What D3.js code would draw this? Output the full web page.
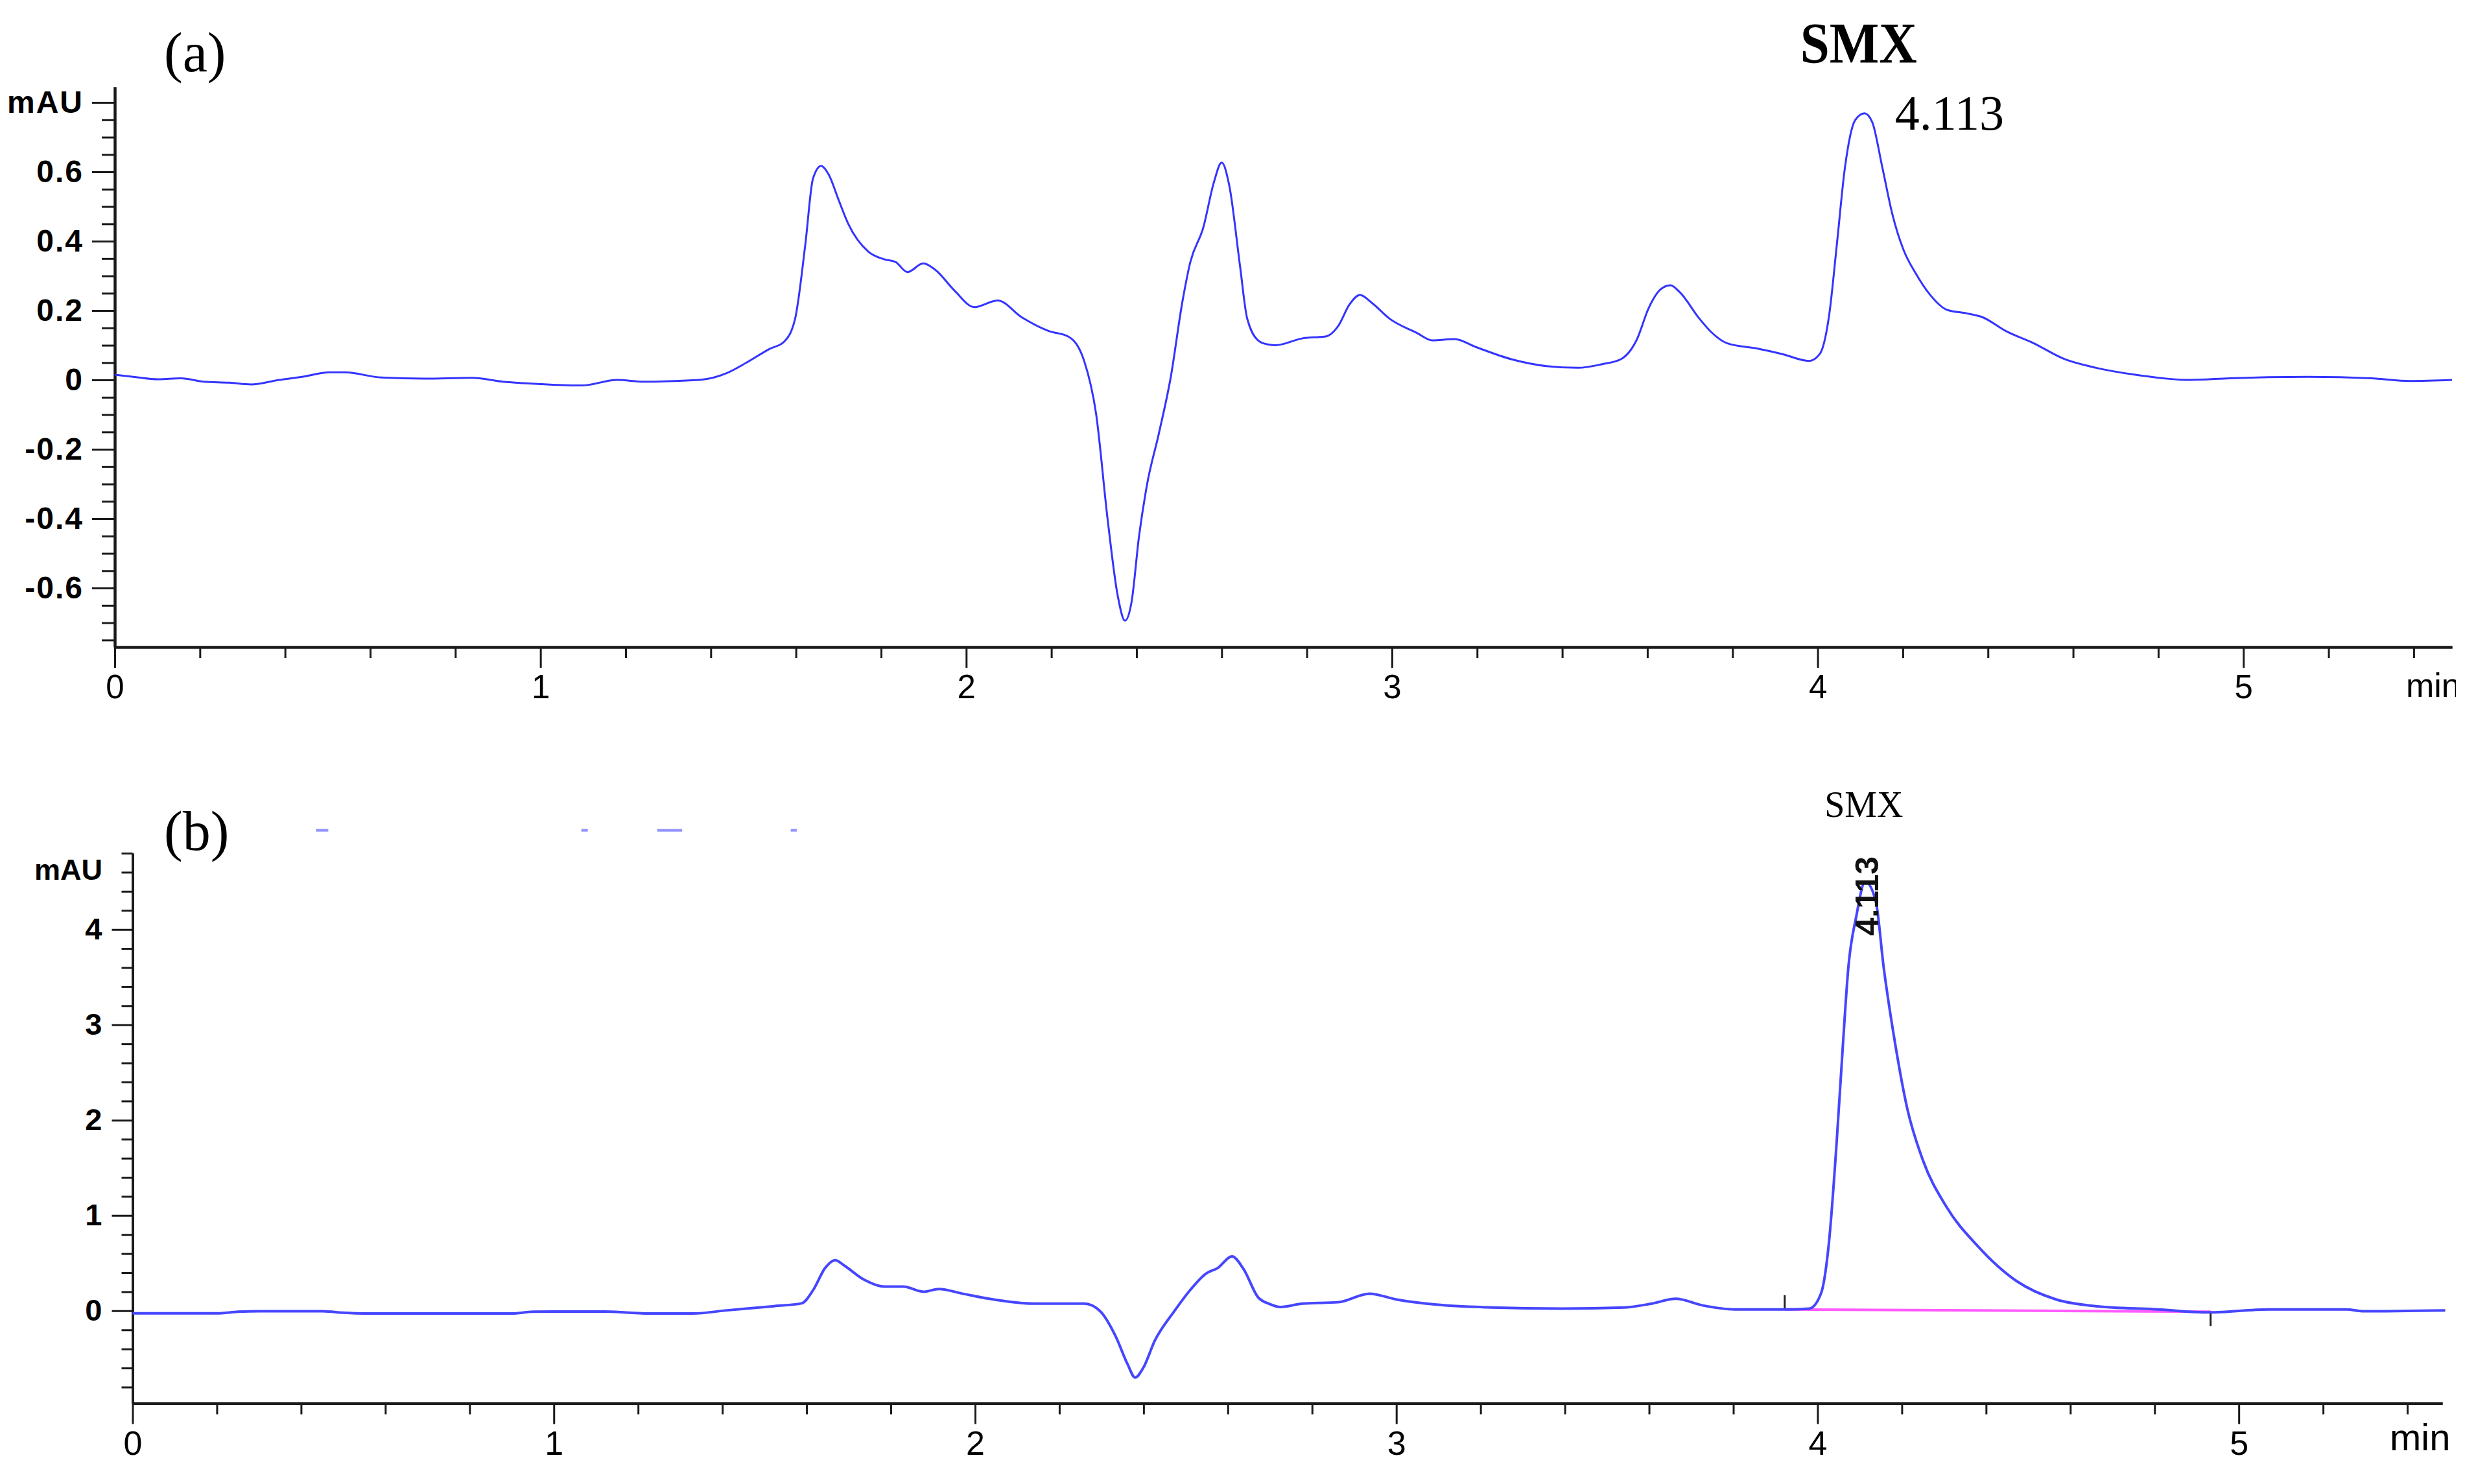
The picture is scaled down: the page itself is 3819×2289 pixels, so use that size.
<!DOCTYPE html>
<html>
<head>
<meta charset="utf-8">
<script src="https://cdn.jsdelivr.net/npm/d3@7"></script>
<style>
  html, body { margin: 0; padding: 0; background: #fff; }
  svg { display: block; }
</style>
</head>
<body>
<script>
// ---------------- DATA ----------------
// Panel (a): chromatogram, time (min) and absorbance (mAU)
const timeA = [0.00,0.05,0.10,0.155,0.21,0.27,0.32,0.386,0.44,0.505,0.54,0.626,0.727,0.838,0.912,1.004,1.096,1.18,1.244,1.373,
  1.438,1.484,1.539,1.572,1.598,1.622,1.64,1.659,1.677,1.70,1.723,1.77,1.807,1.834,1.862,1.899,1.927,1.973,2.019,2.074,
  2.13,2.194,2.24,2.277,2.305,2.332,2.356,2.373,2.388,2.406,2.425,2.452,2.48,2.508,2.526,2.557,2.582,2.60,2.618,2.643,
  2.66,2.689,2.711,2.726,2.79,2.846,2.874,2.90,2.925,2.953,2.994,3.058,3.095,3.147,3.197,3.28,3.363,3.437,3.492,3.538,
  3.575,3.603,3.63,3.654,3.676,3.722,3.75,3.787,3.861,3.916,3.98,4.005,4.027,4.045,4.064,4.088,4.11,4.128,4.152,4.175,
  4.202,4.23,4.263,4.304,4.35,4.387,4.442,4.507,4.58,4.654,4.746,4.875,4.968,5.152,5.30,5.392,5.49];
const valueA = [0.015,0.008,0.002,0.005,-0.005,-0.008,-0.013,0.0,0.009,0.022,0.022,0.007,0.004,0.006,-0.005,-0.012,-0.016,0.0,-0.005,0.0,
  0.02,0.05,0.09,0.11,0.176,0.39,0.58,0.617,0.592,0.52,0.45,0.37,0.348,0.34,0.311,0.336,0.318,0.257,0.21,0.229,
  0.181,0.141,0.125,0.055,-0.097,-0.40,-0.623,-0.694,-0.643,-0.45,-0.30,-0.157,0.005,0.227,0.338,0.44,0.571,0.627,0.56,0.33,
  0.177,0.111,0.102,0.1,0.12,0.126,0.156,0.217,0.245,0.222,0.177,0.136,0.114,0.118,0.095,0.06,0.04,0.035,0.045,0.06,
  0.116,0.207,0.26,0.273,0.253,0.177,0.138,0.106,0.09,0.075,0.055,0.075,0.187,0.39,0.612,0.749,0.769,0.744,0.612,0.48,
  0.374,0.308,0.247,0.202,0.192,0.181,0.141,0.106,0.06,0.035,0.015,0.0,0.005,0.009,0.005,-0.003,0.0];

// Panel (b): chromatogram, time (min) and absorbance (mAU)
const timeB = [0.00,0.20,0.25,0.30,0.45,0.50,0.55,0.90,0.95,1.00,1.12,1.18,1.22,1.33,1.411,1.523,1.588,1.616,1.644,1.668,
  1.691,1.737,1.784,1.83,1.877,1.914,1.97,2.045,2.138,2.259,2.297,2.334,2.362,2.38,2.399,2.427,2.473,2.511,2.548,2.576,
  2.61,2.637,2.672,2.70,2.725,2.778,2.862,2.936,3.001,3.095,3.225,3.393,3.542,3.607,3.663,3.728,3.803,3.924,3.98,4.008,
  4.027,4.045,4.06,4.073,4.092,4.113,4.138,4.157,4.185,4.213,4.25,4.306,4.38,4.473,4.567,4.66,4.809,4.93,5.07,5.256,
  5.293,5.49];
const valueB = [-0.026,-0.026,-0.01,-0.004,-0.004,-0.02,-0.028,-0.028,-0.01,-0.008,-0.008,-0.02,-0.028,-0.028,0.005,0.049,0.078,0.22,0.449,0.532,
  0.47,0.325,0.254,0.254,0.2,0.229,0.18,0.118,0.076,0.076,-0.004,-0.27,-0.56,-0.70,-0.60,-0.31,-0.004,0.22,0.39,0.449,
  0.57,0.44,0.141,0.07,0.04,0.076,0.09,0.18,0.118,0.065,0.035,0.023,0.035,0.076,0.126,0.056,0.015,0.015,0.023,0.18,
  0.716,1.75,2.78,3.60,4.14,4.5,4.3,3.60,2.78,2.12,1.58,1.09,0.68,0.31,0.118,0.049,0.015,-0.017,0.015,0.015,
  -0.004,0.005];

// Integration baseline of the SMX peak in (b): start/end time and level
const baselineTimesB = [3.922, 4.933];
const baselineValuesB = [0.015, -0.01];

// Faint fragments of another trace left at the top of panel (b): [start, end] time, level
const ghostTimesB = [[0.44, 0.46], [1.07, 1.076], [1.25, 1.30], [1.567, 1.572]];
const ghostValueB = 5.04;

// Tick labels
const xMajorTicks = [0, 1, 2, 3, 4, 5];
const xTickLabels = ["0", "1", "2", "3", "4", "5"];
const yMajorTicksA = [-0.6, -0.4, -0.2, 0, 0.2, 0.4, 0.6, 0.8];
const yTickLabelsA = ["-0.6", "-0.4", "-0.2", "0", "0.2", "0.4", "0.6", "mAU"];
const yMajorTicksB = [0, 1, 2, 3, 4];
const yTickLabelsB = ["0", "1", "2", "3", "4"];

// Annotations
const peakTime = 4.113;
const peakLabel = "4.113";
const compound = "SMX";

// ---------------- DRAW ----------------
const W = 3819, H = 2289;
const svg = d3.select("body").append("svg").attr("width", W).attr("height", H)
  .attr("viewBox", `0 0 ${W} ${H}`);
svg.append("rect").attr("width", W).attr("height", H).attr("fill", "#fff");

const SANS = "'Liberation Sans', Arial, sans-serif";
const SERIF = "'Liberation Serif', 'Times New Roman', serif";

// scales
const xA = d3.scaleLinear().domain([0, 5.49]).range([177, 3782]);
const yA = d3.scaleLinear().domain([-0.77, 0.845]).range([998, 134]);
const xB = d3.scaleLinear().domain([0, 5.483]).range([204.5, 3767]);
const yB = d3.scaleLinear().domain([-0.97, 4.8]).range([2164.5, 1316]);

function styleAxis(g, strokeW) {
  g.selectAll(".domain").attr("stroke", "#1a1a1a").attr("stroke-width", strokeW);
  g.selectAll(".tick line").attr("stroke", "#1a1a1a").attr("stroke-width", 3);
}

function drawAxes(x, y, opt) {
  const x0 = x.range()[0], yBottom = y.range()[0];
  const xMinor = d3.range(0, x.domain()[1] + 1e-9, 0.2).map(v => +v.toFixed(2))
    .filter(v => Math.abs(v - Math.round(v)) > 1e-6);
  const gxm = svg.append("g").attr("transform", `translate(0,${yBottom})`)
    .call(d3.axisBottom(x).tickValues(xMinor).tickSize(opt.xMinorLen).tickSizeOuter(0).tickFormat(""));
  styleAxis(gxm, 4);
  const gx = svg.append("g").attr("transform", `translate(0,${yBottom})`)
    .call(d3.axisBottom(x).tickValues(xMajorTicks).tickSize(opt.xMajorLen).tickSizeOuter(0)
      .tickPadding(opt.xPad).tickFormat((d, i) => xTickLabels[i]));
  styleAxis(gx, 4);
  gx.selectAll("text").attr("font-family", SANS).attr("font-size", opt.xFont).attr("fill", "#000");

  const yMinor = d3.range(opt.yMinorStart, opt.yMinorEnd + 1e-9, opt.yMinorStep).map(v => +v.toFixed(3))
    .filter(v => !opt.yMajor.some(m => Math.abs(m - v) < 1e-6));
  const gym = svg.append("g").attr("transform", `translate(${x0},0)`)
    .call(d3.axisLeft(y).tickValues(yMinor).tickSize(opt.yMinorLen).tickSizeOuter(0).tickFormat(""));
  styleAxis(gym, 4);
  const gy = svg.append("g").attr("transform", `translate(${x0},0)`)
    .call(d3.axisLeft(y).tickValues(opt.yMajor).tickSize(opt.yMajorLen).tickSizeOuter(0)
      .tickPadding(opt.yPad).tickFormat((d, i) => opt.yLabels[i]));
  styleAxis(gy, 4);
  gy.selectAll("text").attr("font-family", SANS).attr("font-size", opt.yFont)
    .attr("font-weight", "bold").attr("letter-spacing", opt.ySpacing || 0).attr("fill", "#000");
}

// ---- Panel (a)
drawAxes(xA, yA, {
  xMinorLen: 17, xMajorLen: 32, xPad: 11, xFont: 51,
  yMinorStart: -0.75, yMinorEnd: 0.8, yMinorStep: 0.05, yMajor: yMajorTicksA, yLabels: yTickLabelsA,
  yMinorLen: 20, yMajorLen: 35, yPad: 13, yFont: 48, ySpacing: 2
});
const defs = svg.append("defs");
defs.append("clipPath").attr("id", "clipMinA").append("rect")
  .attr("x", 3600).attr("y", 1000).attr("width", xA.range()[1] + 6 - 3600).attr("height", 120);
svg.append("text").attr("clip-path", "url(#clipMinA)")
  .attr("x", 3711).attr("y", 1075).attr("font-family", SANS).attr("font-size", 52).attr("fill", "#000")
  .text("min");

const lineA = d3.line().x((d, i) => xA(timeA[i])).y((d, i) => yA(valueA[i])).curve(d3.curveMonotoneX);
svg.append("path").attr("d", lineA(valueA)).attr("fill", "none")
  .attr("stroke", "#3434ff").attr("stroke-width", 3).attr("stroke-linejoin", "round");

svg.append("text").attr("x", 253).attr("y", 110).attr("font-family", SERIF).attr("font-size", 86)
  .attr("fill", "#000").text("(a)");
svg.append("text").attr("x", xA(peakTime) - 11).attr("y", 96).attr("text-anchor", "middle")
  .attr("font-family", SERIF).attr("font-weight", "bold").attr("font-size", 88)
  .attr("textLength", 180).attr("lengthAdjust", "spacingAndGlyphs").attr("fill", "#000").text(compound);
svg.append("text").attr("x", xA(peakTime) + 45).attr("y", 200)
  .attr("font-family", SERIF).attr("font-size", 76).attr("fill", "#000").text(peakLabel);

// ---- Panel (b)
drawAxes(xB, yB, {
  xMinorLen: 17, xMajorLen: 32, xPad: 11, xFont: 52,
  yMinorStart: -0.8, yMinorEnd: 4.8, yMinorStep: 0.2, yMajor: yMajorTicksB, yLabels: yTickLabelsB,
  yMinorLen: 17, yMajorLen: 32, yPad: 15, yFont: 47
});
svg.append("text").attr("x", 158).attr("y", yB(4.63)).attr("dy", "0.36em").attr("text-anchor", "end")
  .attr("font-family", SANS).attr("font-weight", "bold").attr("font-size", 45).attr("fill", "#000").text("mAU");
svg.append("text").attr("x", 3686).attr("y", 2237).attr("font-family", SANS).attr("font-size", 58)
  .attr("fill", "#000").text("min");

svg.append("line")
  .attr("x1", xB(baselineTimesB[0])).attr("y1", yB(baselineValuesB[0]))
  .attr("x2", xB(baselineTimesB[1])).attr("y2", yB(baselineValuesB[1]))
  .attr("stroke", "#ff5cff").attr("stroke-width", 4);
svg.append("line")
  .attr("x1", xB(baselineTimesB[0])).attr("y1", yB(baselineValuesB[0]))
  .attr("x2", xB(baselineTimesB[0])).attr("y2", yB(baselineValuesB[0]) - 22)
  .attr("stroke", "#222").attr("stroke-width", 3);
svg.append("line")
  .attr("x1", xB(baselineTimesB[1])).attr("y1", yB(baselineValuesB[1]))
  .attr("x2", xB(baselineTimesB[1])).attr("y2", yB(baselineValuesB[1]) + 22)
  .attr("stroke", "#222").attr("stroke-width", 3);

const lineB = d3.line().x((d, i) => xB(timeB[i])).y((d, i) => yB(valueB[i])).curve(d3.curveMonotoneX);
svg.append("path").attr("d", lineB(valueB)).attr("fill", "none")
  .attr("stroke", "#4646ff").attr("stroke-width", 4).attr("stroke-linejoin", "round");

svg.selectAll(".ghost").data(ghostTimesB).enter().append("line").attr("class", "ghost")
  .attr("x1", d => xB(d[0]) - 3).attr("x2", d => xB(d[1]) + 3)
  .attr("y1", yB(ghostValueB)).attr("y2", yB(ghostValueB))
  .attr("stroke", "#7a7aff").attr("stroke-width", 4).attr("opacity", 0.8);

svg.append("text").attr("x", 253).attr("y", 1311).attr("font-family", SERIF).attr("font-size", 86)
  .attr("fill", "#000").text("(b)");
svg.append("text").attr("x", xB(peakTime) - 2).attr("y", 1260).attr("text-anchor", "middle")
  .attr("font-family", SERIF).attr("font-size", 56).attr("fill", "#000").text(compound);
svg.append("text")
  .attr("transform", `translate(${xB(peakTime) + 3},${yB(4.35)}) rotate(-90)`)
  .attr("text-anchor", "middle").attr("dominant-baseline", "central")
  .attr("font-family", SANS).attr("font-weight", "bold").attr("font-size", 50).attr("fill", "#111").text(peakLabel);
</script>
</body>
</html>
